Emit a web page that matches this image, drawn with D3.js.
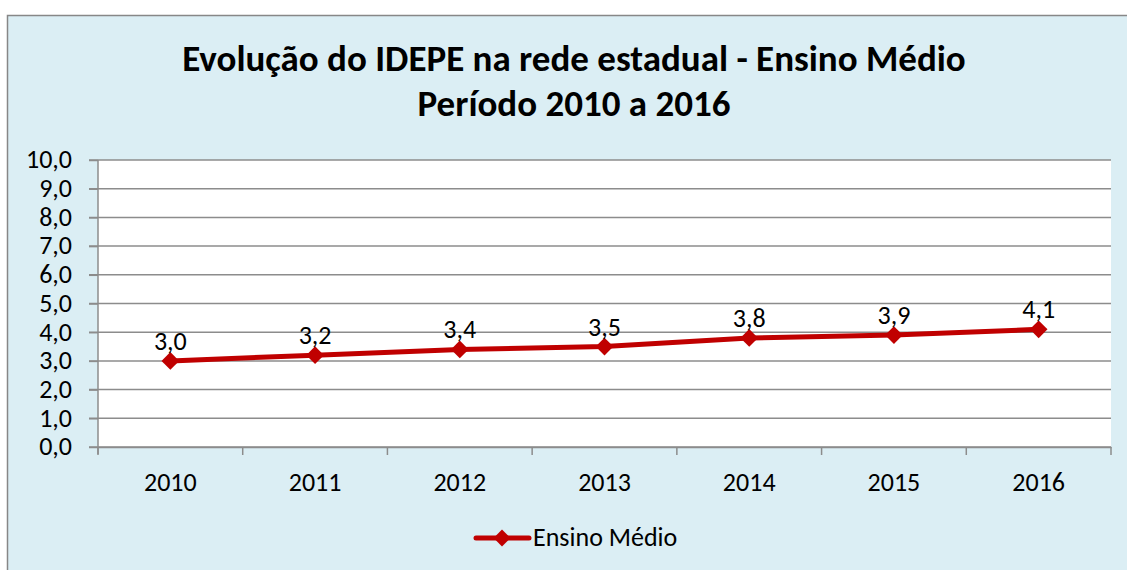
<!DOCTYPE html>
<html><head><meta charset="utf-8">
<script src="https://cdn.jsdelivr.net/npm/d3@7"></script>
<style>body{margin:0;background:#fff;} svg{display:block;font-family:Carlito,Lato,"Open Sans",sans-serif;}</style>
</head><body>
<svg id="c" width="1127" height="570"></svg>
<script>
const categories = ["2010","2011","2012","2013","2014","2015","2016"];
const values = [3.0,3.2,3.4,3.5,3.8,3.9,4.1];
const yTicks = [0,1,2,3,4,5,6,7,8,9,10];
const seriesName = "Ensino Médio";
const titleLines = ["Evolução do IDEPE na rede estadual - Ensino Médio","Período 2010 a 2016"];

const svg = d3.select("#c");
const FF = "Carlito,Lato,sans-serif";
const fmt = v => d3.format(".1f")(v).replace(".", ",");
svg.append("rect").attr("x",7.5).attr("y",15.5).attr("width",1130).attr("height",570)
  .attr("fill","#DBEEF4").attr("stroke","#878787").attr("stroke-width",1.5);

const m = {l:98,r:1111,t:160,b:447};
const x = d3.scaleBand().domain(categories).range([m.l,m.r]);
const y = d3.scaleLinear().domain([0,10]).range([m.b,m.t]);

svg.append("rect").attr("x",m.l).attr("y",m.t).attr("width",m.r-m.l).attr("height",m.b-m.t).attr("fill","#fff");

svg.append("g").selectAll("line").data(yTicks).join("line")
  .attr("x1",m.l-9).attr("x2",m.r).attr("y1",d=>y(d)).attr("y2",d=>y(d))
  .attr("stroke","#8c8c8c").attr("stroke-width",1.5);

const yAxis = svg.append("g").attr("transform",`translate(${m.l},0)`)
  .call(d3.axisLeft(y).tickValues(yTicks).tickFormat(fmt).tickSize(9));
yAxis.attr("font-size",null).attr("font-family",null);
yAxis.select(".domain").attr("stroke","#8c8c8c").attr("stroke-width",1.5).attr("d",`M0,${m.t}V${m.b+7}`);
yAxis.selectAll(".tick line").attr("stroke","#8c8c8c").attr("stroke-width",1.5);
yAxis.selectAll(".tick text").attr("font-size",26).attr("fill","#000").attr("x",-26).attr("dy","0.3em").attr("font-family",FF);

const xAxis = svg.append("g").attr("transform",`translate(0,${m.b})`)
  .call(d3.axisBottom(x).tickSize(0).tickPadding(0));
xAxis.attr("font-size",null).attr("font-family",null);
xAxis.select(".domain").attr("stroke","#8c8c8c").attr("stroke-width",1.5);
xAxis.selectAll(".tick text").attr("font-size",26).attr("fill","#000").attr("font-family",FF).attr("y",44).attr("dy",0);
const bounds = categories.map(c=>x(c)).concat([m.r]);
svg.append("g").selectAll("line").data(bounds).join("line")
  .attr("x1",d=>d).attr("x2",d=>d).attr("y1",m.b).attr("y2",m.b+8)
  .attr("stroke","#8c8c8c").attr("stroke-width",1.5);

const cx = c => x(c)+x.bandwidth()/2;
const pts = categories.map((c,i)=>[cx(c),y(values[i])]);
svg.append("path").attr("d",d3.line()(pts)).attr("fill","none").attr("stroke","#C00000").attr("stroke-width",5);
const diamond = d3.symbol().type(d3.symbolDiamond2).size(200);
svg.append("g").selectAll("path").data(pts).join("path")
  .attr("transform",d=>`translate(${d[0]},${d[1]})`).attr("d",diamond).attr("fill","#C00000");
svg.append("g").selectAll("text").data(categories).join("text")
  .attr("x",(c)=>cx(c)).attr("y",(c,i)=>y(values[i])-11)
  .attr("text-anchor","middle").attr("font-size",26).attr("fill","#000").attr("font-family",FF)
  .text((c,i)=>fmt(values[i]));

svg.append("g").selectAll("text").data(titleLines).join("text")
  .attr("x",574).attr("y",(d,i)=>71+i*45).attr("text-anchor","middle")
  .attr("font-size",37).attr("font-weight","bold").attr("fill","#000").attr("font-family",FF).text(d=>d);

const lg = svg.append("g");
lg.append("line").attr("x1",476).attr("x2",529).attr("y1",538).attr("y2",538).attr("stroke","#C00000").attr("stroke-width",5).attr("stroke-linecap","round");
lg.append("path").attr("transform","translate(502,538)").attr("d",d3.symbol().type(d3.symbolDiamond2).size(180)).attr("fill","#C00000");
lg.append("text").attr("x",533).attr("y",546).attr("font-size",26).attr("fill","#000").attr("font-family",FF).text(seriesName);
</script>
</body></html>
